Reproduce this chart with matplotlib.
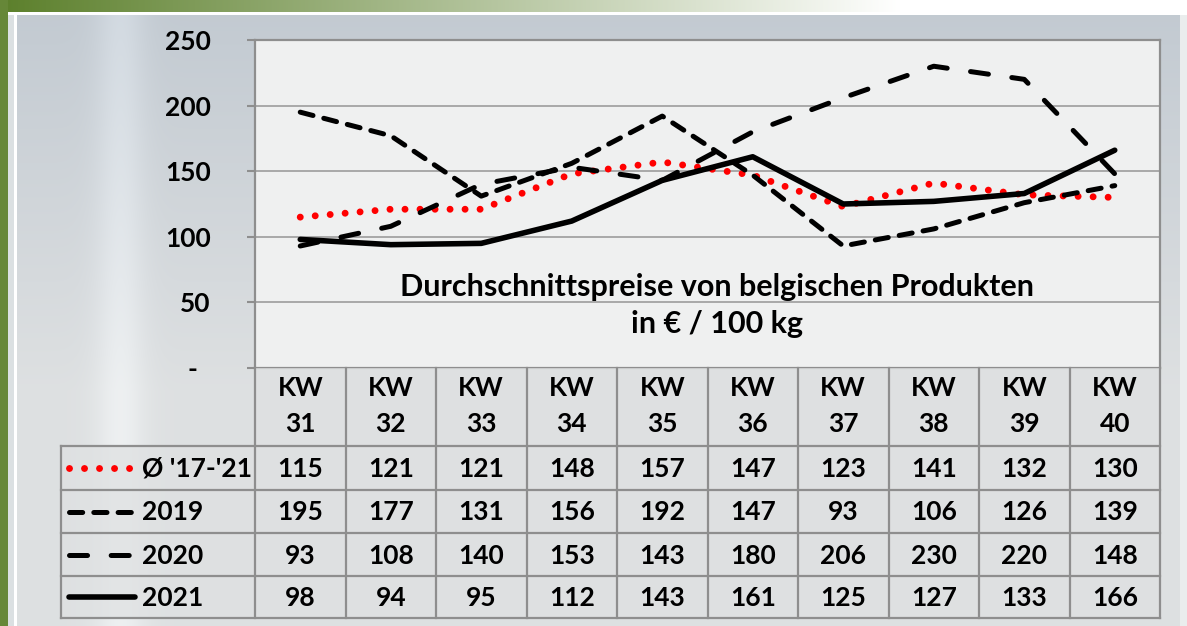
import numpy as np
import matplotlib
matplotlib.use("Agg")
import matplotlib.pyplot as plt
from matplotlib.lines import Line2D

plt.rcParams['font.family'] = ['Lato', 'DejaVu Sans']
plt.rcParams['lines.scale_dashes'] = False

# ---------------- data ----------------
weeks = ["31", "32", "33", "34", "35", "36", "37", "38", "39", "40"]
series_names = ["Ø '17-'21", "2019", "2020", "2021"]
avg_17_21 = [115, 121, 121, 148, 157, 147, 123, 141, 132, 130]
y2019 = [195, 177, 131, 156, 192, 147, 93, 106, 126, 139]
y2020 = [93, 108, 140, 153, 143, 180, 206, 230, 220, 148]
y2021 = [98, 94, 95, 112, 143, 161, 125, 127, 133, 166]
yticks = [0, 50, 100, 150, 200, 250]
ytick_labels = ["-  ", "50", "100", "150", "200", "250"]
title_text = "Durchschnittspreise von belgischen Produkten\nin € / 100 kg"

series = [avg_17_21, y2019, y2020, y2021]

# ---------------- styles ----------------
styles = [
    dict(color="#ff0000", lw=5.0, ls=(0, (0.01, 10.8)), dash_capstyle="round", solid_capstyle="round"),
    dict(color="black", lw=3.6, ls=(0, (9.5, 8.0)), dash_capstyle="round"),
    dict(color="black", lw=3.6, ls=(0, (13.0, 17.0)), dash_capstyle="round"),
    dict(color="black", lw=4.0, ls="-", solid_capstyle="round"),
]

W, H = 1187, 626
fig = plt.figure(figsize=(W / 100, H / 100), dpi=100)

# ---------------- background ----------------
img = np.ones((H, W, 3))
yy = np.linspace(0, 1, H)[:, None]
top = np.array([0.76, 0.79, 0.82])
bot = np.array([0.87, 0.88, 0.885])
panel = top + (bot - top) * np.clip(yy * 1.6, 0, 1)[..., None]
panel = np.broadcast_to(panel, (H, W, 3)).copy()
streak = 0.06 * np.exp(-((np.arange(W) - 120) / 25.0) ** 2)
panel += streak[None, :, None]
panel = np.clip(panel, 0, 1)
img[15:, 17:1180] = panel[15:, 17:1180]
img[15:, 8:14] = [0.86, 0.88, 0.89]
img[15:, 1180:] = [0.92, 0.93, 0.93]
g0 = np.array([0.36, 0.50, 0.17])
t = np.clip(np.arange(W) / 900.0, 0, 1)[:, None]
strip = g0 + (np.array([1.0, 1.0, 1.0]) - g0) * t
img[0:12, :] = strip[None, :, :]
img[:, 0:8] = [0.40, 0.53, 0.22]

bg = fig.add_axes([0, 0, 1, 1])
bg.imshow(img, aspect="auto", extent=(0, W, H, 0), interpolation="bilinear")
bg.set_xlim(0, W)
bg.set_ylim(H, 0)
bg.axis("off")

# ---------------- layout (pixels) ----------------
PL, PR, PT, PB = 255, 1160, 40, 368
col_w = (PR - PL) / len(weeks)
TL = 61
row_edges = [368, 446, 490, 533, 576, 618]
FS = 19
grid_col = "#a3a3a3"
frame_col = "#8e8e8e"


def fx(px):
    return px / W


def fy(py):
    return 1 - py / H


ax = fig.add_axes([fx(PL), fy(PB), fx(PR) - fx(PL), fy(PT) - fy(PB)])
ax.set_facecolor("#eff0f0")
x = np.arange(len(weeks))
for vals, st in zip(series, styles):
    ax.plot(x, vals, solid_joinstyle="round", dash_joinstyle="round", **st)
ax.set_xlim(-0.5, len(weeks) - 0.5)
ax.set_ylim(0, 250)
ax.set_yticks(yticks)
ax.set_yticklabels(ytick_labels, fontsize=FS, fontweight="bold")
ax.set_xticks([])
ax.tick_params(axis="y", length=5.8, width=1.5, color=frame_col, pad=26)
ax.yaxis.grid(True, color=grid_col, lw=1.3)
ax.set_axisbelow(True)
for s in ax.spines.values():
    s.set_color(frame_col)
    s.set_linewidth(1.6)
ax.text(0.5105, 0.190, title_text, transform=ax.transAxes, ha="center", va="center",
        fontsize=22, fontweight="bold", linespacing=1.4)

# ---------------- table ----------------
tab = fig.add_axes([0, 0, 1, 1], facecolor="none")
tab.set_xlim(0, W)
tab.set_ylim(H, 0)
tab.axis("off")
cell_bg = "#dfe1e2"
tab.add_patch(plt.Rectangle((PL, row_edges[0]), PR - PL, row_edges[1] - row_edges[0],
                            facecolor=cell_bg, edgecolor="none", alpha=0.75, zorder=0))
tab.add_patch(plt.Rectangle((TL, row_edges[1]), PR - TL, row_edges[-1] - row_edges[1],
                            facecolor=cell_bg, edgecolor="none", alpha=0.75, zorder=0))
lw_t = 1.6
for ye in row_edges[1:]:
    tab.plot([TL, PR], [ye, ye], color=frame_col, lw=lw_t, zorder=2)
for k in range(len(weeks) + 1):
    xe = PL + k * col_w
    tab.plot([xe, xe], [row_edges[0], row_edges[-1]], color=frame_col, lw=lw_t, zorder=2)
tab.plot([TL, TL], [row_edges[1], row_edges[-1]], color=frame_col, lw=lw_t, zorder=2)

for i, w in enumerate(weeks):
    cx = PL + (i + 0.5) * col_w
    tab.text(cx, 388, "KW", ha="center", va="center", fontsize=FS, fontweight="bold", zorder=3)
    tab.text(cx, 424, w, ha="center", va="center", fontsize=FS, fontweight="bold", zorder=3)

for r, (name, vals, st) in enumerate(zip(series_names, series, styles)):
    cy = (row_edges[r + 1] + row_edges[r + 2]) / 2
    tab.add_line(Line2D([69, 135], [cy, cy], zorder=3, **st))
    tab.text(142, cy + 1, name, ha="left", va="center", fontsize=FS, fontweight="bold", zorder=3)
    for i, v in enumerate(vals):
        cx = PL + (i + 0.5) * col_w
        tab.text(cx, cy + 1, str(v), ha="center", va="center", fontsize=FS,
                 fontweight="bold", zorder=3)

fig.savefig("out.png", dpi=100)
